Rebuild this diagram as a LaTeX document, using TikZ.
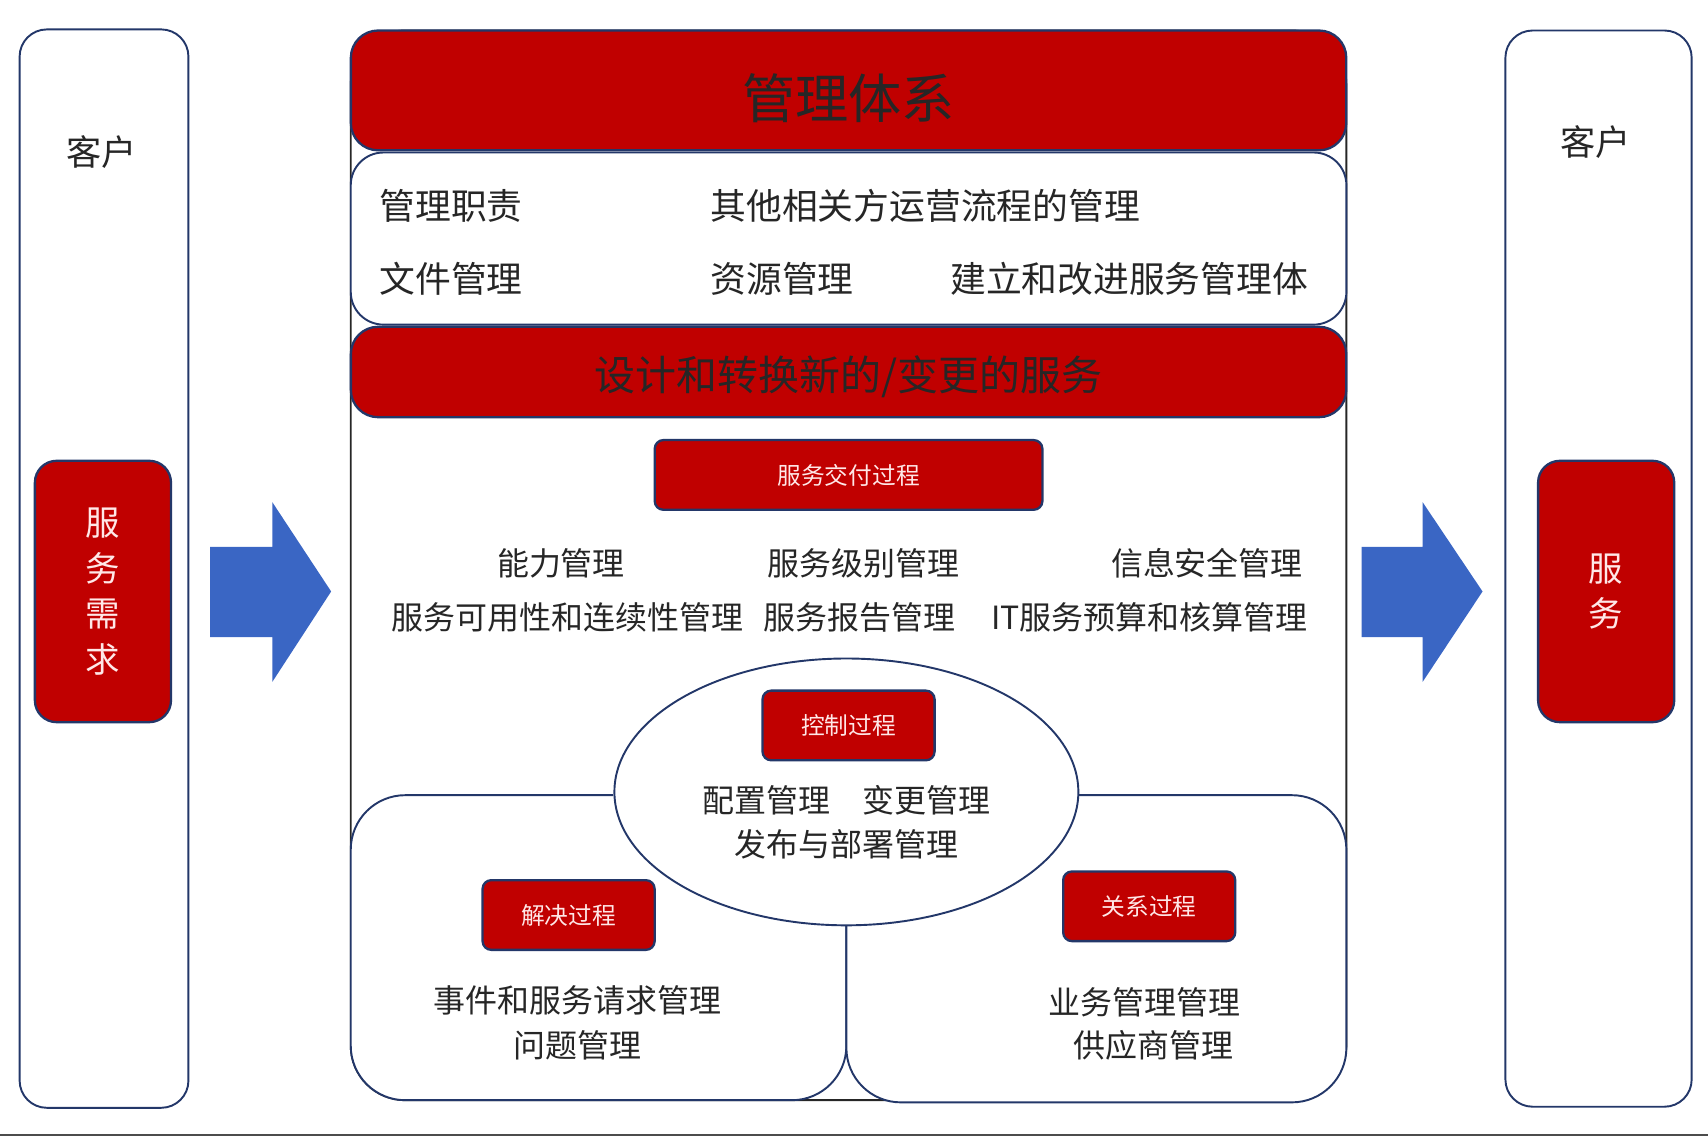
\documentclass[tikz,border=0pt]{standalone}
\usepackage{fontspec}
\setmainfont{Noto Sans CJK SC}
\usetikzlibrary{positioning,shapes.geometric}
\usepackage{xcolor}
\definecolor{boxred}{RGB}{192,0,0}
\definecolor{navy}{RGB}{35,55,105}
\definecolor{arrowblue}{RGB}{58,102,196}
\definecolor{pinktext}{RGB}{255,232,232}
\newcommand{\px}[1]{\fontsize{#1}{#1}\selectfont}

\begin{document}
\begin{tikzpicture}[x=0.02cm,y=-0.02cm,
  redbox/.style={draw=navy,fill=boxred,line width=1.2pt,rounded corners=0.16cm,
    text=pinktext,font=\px{12.4pt},minimum width=3.16cm,minimum height=1.28cm},
  bigbar/.style={draw=navy,fill=boxred,line width=1.2pt,rounded corners=0.5cm,
    minimum width=18.28cm},
  sidebox/.style={draw=navy,fill=boxred,line width=1.2pt,rounded corners=0.4cm,
    minimum width=2.5cm,minimum height=4.8cm,text=pinktext,align=center,
    font=\fontsize{18pt}{23.8pt}\selectfont},
  frame/.style={draw=navy,fill=white,line width=1pt},
  item/.style={font=\px{16.7pt},inner sep=0pt,text=black!85},
  head/.style={font=\px{18.7pt},inner sep=0pt,anchor=west,text=black!85},
  blockarrow/.style={fill=arrowblue,draw=none}]
  \useasboundingbox (0,0) rectangle (1568,1044);

  % customers on both sides
  \draw[frame,rounded corners=0.5cm] (18,27) rectangle (173,1017);
  \draw[frame,rounded corners=0.5cm] (1382,28) rectangle (1553,1016);
  \node[item,font=\px{18.4pt}] (custL) at (93,140) {客户};
  \node[item,font=\px{18.4pt}] (custR) at (1465,130) {客户};
  \node[sidebox] (need) at (94.5,543) {服\\务\\需\\求};
  \node[sidebox] (serv) at (1474.5,543) {服\\务};

  % arrows
  \draw[blockarrow] (193,502) -- (250,502) -- (250,461) -- (304,543)
    -- (250,626) -- (250,585) -- (193,585) -- cycle;
  \draw[blockarrow] (1250,502) -- (1306,502) -- (1306,461) -- (1361,543)
    -- (1306,626) -- (1306,585) -- (1250,585) -- cycle;

  % central system
  \draw[black!85,line width=1pt,rounded corners=1cm] (322,28) rectangle (1236,1010);
  \node[bigbar,minimum height=2.2cm] (sys) at (779,83) {};
  \node[item,font=\px{27.8pt}] (systxt) at (779,90) {管理体系};
  \draw[frame,rounded corners=0.6cm] (322,140) rectangle (1236,298);
  \node[head] (duty) at (348,189) {管理职责};
  \node[head] (other) at (652,189) {其他相关方运营流程的管理};
  \node[head] (doc) at (348,256) {文件管理};
  \node[head] (res) at (652,256) {资源管理};
  \node[head] (impr) at (872,256) {建立和改进服务管理体};
  \node[bigbar,minimum height=1.66cm] (design) at (779,341.5) {};
  \node[item,font=\px{21.4pt}] (designtxt) at (779,346) {设计和转换新的/变更的服务};

  % delivery
  \node[redbox,minimum width=7.12cm] (deliv) at (779,436) {服务交付过程};
  \node[item] (cap) at (515,517) {能力管理};
  \node[item] (sla) at (793,517) {服务级别管理};
  \node[item] (sec) at (1108,517) {信息安全管理};
  \node[item] (avail) at (521,567) {服务可用性和连续性管理};
  \node[item] (rep) at (789,567) {服务报告管理};
  \node[item] (bud) at (1055,567) {IT服务预算和核算管理};

  % resolution and relationship
  \draw[frame,rounded corners=1cm] (563,730) -- (322,730) -- (322,1010)
    -- (777,1010) -- (777,850);
  \draw[frame,rounded corners=1cm] (990,730) -- (1236,730) -- (1236,1012)
    -- (777,1012) -- (777,850);
  \node[redbox] (resol) at (522,840) {解决过程};
  \node[item] (inc) at (530,918) {事件和服务请求管理};
  \node[item] (prob) at (530,960) {问题管理};
  \node[redbox] (relat) at (1055,832) {关系过程};
  \node[item] (bus) at (1051,920) {业务管理管理};
  \node[item] (supp) at (1059,960) {供应商管理};

  % control
  \node[ellipse,draw=navy,fill=white,line width=1pt,minimum width=8.52cm,
    minimum height=4.9cm] (ctrl) at (777,727) {};
  \node[redbox] (ctrlbox) at (779,666) {控制过程};
  \node[item] (conf) at (777,735) {配置管理\hspace{1em}变更管理};
  \node[item] (rel) at (777,775) {发布与部署管理};

  \draw[black!70,line width=1.5pt] (0,1042) -- (1568,1042);
\end{tikzpicture}
\end{document}
